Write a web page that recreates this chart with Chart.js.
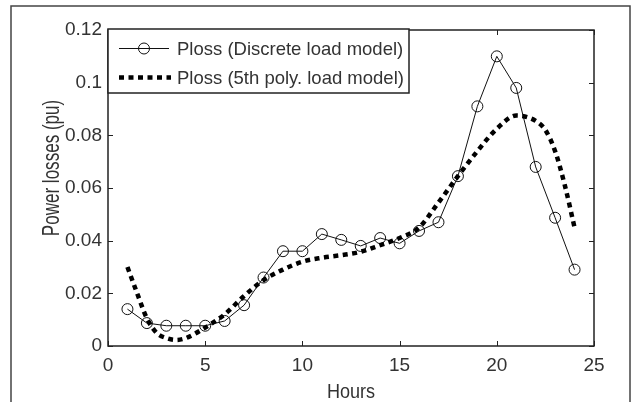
<!DOCTYPE html>
<html>
<head>
<meta charset="utf-8">
<script src="https://cdn.jsdelivr.net/npm/chart.js@4"></script>
<style>
  html, body { margin: 0; padding: 0; background: #fff; }
  #wrap { width: 637px; height: 402px; }
</style>
</head>
<body>
<div id="wrap"><canvas id="lossChart" width="637" height="402"></canvas></div>
<script>
// Datos
const hours = [1, 2, 3, 4, 5, 6, 7, 8, 9, 10, 11, 12, 13, 14, 15, 16, 17, 18, 19, 20, 21, 22, 23, 24];
const discreteLoss = [0.014, 0.0087, 0.0077, 0.0077, 0.0077, 0.0095, 0.0155, 0.026, 0.036, 0.036, 0.0425, 0.0403, 0.038, 0.041, 0.039, 0.0437, 0.047, 0.0645, 0.091, 0.110, 0.098, 0.068, 0.0487, 0.029];

const polyHours = [1, 1.5, 2, 2.5, 3, 3.5, 4, 5, 6, 7, 8, 9, 10, 11, 12, 13, 14, 15, 16, 17, 18, 19, 20, 21, 22, 22.5, 23, 23.5, 24];
const polyLoss = [0.030, 0.020, 0.0105, 0.005, 0.003, 0.0023, 0.003, 0.007, 0.012, 0.019, 0.025, 0.029, 0.032, 0.0335, 0.0345, 0.0358, 0.0383, 0.041, 0.045, 0.0545, 0.0645, 0.074, 0.0825, 0.0875, 0.0855, 0.082, 0.074, 0.061, 0.045];

const xTicks = [0, 5, 10, 15, 20, 25];
const yTicks = [0, 0.02, 0.04, 0.06, 0.08, 0.1, 0.12];
const yTickLabels = ['0', '0.02', '0.04', '0.06', '0.08', '0.1', '0.12'];

const seriesLabels = ['Ploss (Discrete load model)', 'Ploss (5th poly. load model)'];
const xTitle = 'Hours';
const yTitle = 'Power losses (pu)';

const inkColor = '#222';
const textColor = '#333';
const fontFamily = 'Arial, "Liberation Sans", sans-serif';

// texto estrechado (los titulos de ejes son mas altos que anchos)
function narrowText(ctx, text, x, y, size, sx, angle) {
    ctx.save();
    ctx.translate(x, y);
    if (angle) ctx.rotate(angle);
    ctx.scale(sx, 1);
    ctx.font = size + 'px ' + fontFamily;
    ctx.textAlign = 'center';
    ctx.textBaseline = 'alphabetic';
    ctx.fillText(text, 0, 0);
    ctx.restore();
}

// Marco, caja de ejes, ticks hacia dentro, titulos y leyenda
const matlabStyle = {
    id: 'matlabStyle',
    beforeDraw(chart) {
        const ctx = chart.ctx;
        ctx.save();
        ctx.fillStyle = '#fff';
        ctx.fillRect(0, 0, chart.width, chart.height);
        ctx.strokeStyle = '#444';
        ctx.lineWidth = 1.5;
        ctx.strokeRect(11, 6, 619, 420);
        ctx.restore();
    },
    afterDatasetsDraw(chart) {
        const ctx = chart.ctx;
        const a = chart.chartArea;
        const xs = chart.scales.x;
        const ys = chart.scales.y;
        ctx.save();
        ctx.strokeStyle = inkColor;
        ctx.lineWidth = 1.5;
        ctx.strokeRect(a.left, a.top, a.right - a.left, a.bottom - a.top);
        ctx.lineWidth = 1;
        const tl = 5;
        ctx.beginPath();
        xTicks.forEach(v => {
            const px = Math.round(xs.getPixelForValue(v)) + 0.5;
            ctx.moveTo(px, a.bottom); ctx.lineTo(px, a.bottom - tl);
            ctx.moveTo(px, a.top); ctx.lineTo(px, a.top + tl);
        });
        yTicks.forEach(v => {
            const py = Math.round(ys.getPixelForValue(v)) + 0.5;
            ctx.moveTo(a.left, py); ctx.lineTo(a.left + tl, py);
            ctx.moveTo(a.right, py); ctx.lineTo(a.right - tl, py);
        });
        ctx.stroke();

        // titulos de ejes
        ctx.fillStyle = textColor;
        narrowText(ctx, xTitle, (a.left + a.right) / 2, 398, 21, 0.86, 0);
        narrowText(ctx, yTitle, 59, 168, 24, 0.71, -Math.PI / 2);

        // leyenda
        const bx = a.left, by = a.top - 1, bw = 301, bh = 64;
        ctx.fillStyle = '#fff';
        ctx.fillRect(bx, by, bw, bh);
        ctx.strokeStyle = inkColor;
        ctx.lineWidth = 1.5;
        ctx.strokeRect(bx, by, bw, bh);

        const rows = [by + 19.5, by + 48.5];
        const ds = chart.data.datasets;
        // fila 1: linea con circulo
        ctx.strokeStyle = ds[1].borderColor;
        ctx.lineWidth = ds[1].borderWidth;
        ctx.beginPath();
        ctx.moveTo(bx + 11, rows[0]); ctx.lineTo(bx + 61, rows[0]);
        ctx.stroke();
        ctx.beginPath();
        ctx.arc(bx + 36, rows[0], ds[1].pointRadius, 0, Math.PI * 2);
        ctx.stroke();
        // fila 2: linea punteada gruesa
        ctx.strokeStyle = ds[0].borderColor;
        ctx.lineWidth = ds[0].borderWidth;
        ctx.setLineDash(ds[0].borderDash);
        ctx.beginPath();
        ctx.moveTo(bx + 11, rows[1]); ctx.lineTo(bx + 63, rows[1]);
        ctx.stroke();
        ctx.setLineDash([]);

        ctx.fillStyle = textColor;
        ctx.font = '18.5px ' + fontFamily;
        ctx.textAlign = 'left';
        ctx.textBaseline = 'alphabetic';
        ctx.fillText(ds[1].label, bx + 69, rows[0] + 6.5);
        ctx.fillText(ds[0].label, bx + 69, rows[1] + 6.5);
        ctx.restore();
    }
};

const ctx = document.getElementById('lossChart').getContext('2d');

new Chart(ctx, {
    type: 'line',
    data: {
        datasets: [
            {
                label: seriesLabels[1],
                data: polyHours.map((h, i) => ({ x: h, y: polyLoss[i] })),
                borderColor: '#000',
                borderWidth: 4.5,
                borderDash: [5, 4.5],
                pointRadius: 0,
                fill: false,
                cubicInterpolationMode: 'monotone',
                order: 0
            },
            {
                label: seriesLabels[0],
                data: hours.map((h, i) => ({ x: h, y: discreteLoss[i] })),
                borderColor: '#111',
                borderWidth: 1,
                pointRadius: 5.5,
                pointBorderWidth: 1,
                pointBorderColor: '#111',
                pointBackgroundColor: 'rgba(0,0,0,0)',
                fill: false,
                tension: 0,
                order: 1
            }
        ]
    },
    options: {
        responsive: false,
        animation: false,
        events: [],
        layout: { padding: { left: 0, top: 30, right: 43, bottom: 0 } },
        plugins: {
            legend: { display: false },
            tooltip: { enabled: false },
            title: { display: false }
        },
        scales: {
            x: {
                type: 'linear',
                min: 0,
                max: 25,
                grid: { display: false, drawTicks: false },
                border: { display: false },
                afterBuildTicks: s => { s.ticks = xTicks.map(v => ({ value: v })); },
                afterFit: s => { s.height = 56; },
                ticks: {
                    color: textColor,
                    font: { family: fontFamily, size: 19 },
                    padding: 8,
                    maxRotation: 0,
                    callback: v => String(v)
                }
            },
            y: {
                min: 0,
                max: 0.12,
                grid: { display: false, drawTicks: false },
                border: { display: false },
                afterBuildTicks: s => { s.ticks = yTicks.map(v => ({ value: v })); },
                afterFit: s => { s.width = 108; },
                ticks: {
                    color: textColor,
                    font: { family: fontFamily, size: 19 },
                    padding: 6,
                    callback: (v, i) => yTickLabels[i]
                }
            }
        }
    },
    plugins: [matlabStyle]
});
</script>
</body>
</html>
